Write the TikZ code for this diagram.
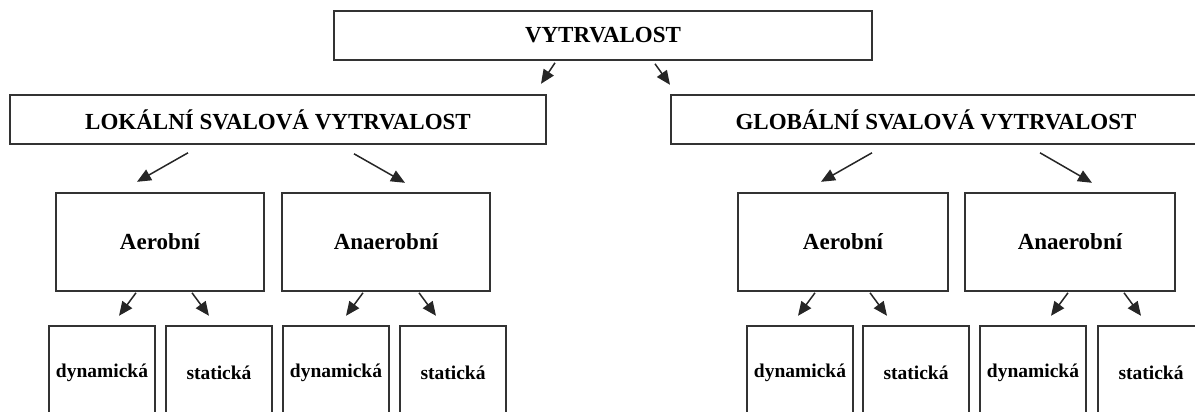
\documentclass[tikz,border=0pt]{standalone}
\usepackage{fontspec}
\setmainfont{Liberation Serif}
\usetikzlibrary{arrows.meta,calc}

\tikzset{
  box/.style={draw=black!80, line width=1.6pt, rectangle, inner sep=0pt,
              font=\bfseries\fontsize{23}{27}\selectfont, text=black},
  headbox/.style={box, minimum height=49pt},
  midbox/.style={box, minimum height=98pt},
  leafbox/.style={box, minimum width=106pt, minimum height=94pt,
                  font=\bfseries\fontsize{19.5}{23}\selectfont},
  arr/.style={draw=black!85, line width=1.5pt,
              -{Triangle[length=14pt,width=12pt]}}
}

\begin{document}
\begin{tikzpicture}[x=1pt,y=-1pt]
  \useasboundingbox (0,0) rectangle (1195,412);
  \clip (0,0) rectangle (1195,412);

  % top level
  \node[headbox, minimum width=538pt] (top) at (603,35.5) {VYTRVALOST};

  % second level
  \node[headbox, minimum width=536pt] (lok)  at (278,119.5) {LOKÁLNÍ SVALOVÁ VYTRVALOST};
  \node[headbox, minimum width=530pt] (glob) at (936,119.5) {GLOBÁLNÍ SVALOVÁ VYTRVALOST};

  % third level
  \node[midbox, minimum width=208pt] (aerL) at (160,242)    {Aerobní};
  \node[midbox, minimum width=208pt] (anL)  at (386,242)    {Anaerobní};
  \node[midbox, minimum width=210pt] (aerR) at (843,242)    {Aerobní};
  \node[midbox, minimum width=210pt] (anR)  at (1070,242)   {Anaerobní};

  % leaves
  \node[leafbox] (d1) at (102,373)  {dynamická};
  \node[leafbox] (s1) at (219,373)  {statická};
  \node[leafbox] (d2) at (336,373)  {dynamická};
  \node[leafbox] (s2) at (453,373)  {statická};
  \node[leafbox] (d3) at (800,373)  {dynamická};
  \node[leafbox] (s3) at (916,373)  {statická};
  \node[leafbox] (d4) at (1033,373) {dynamická};
  \node[leafbox] (s4) at (1151,373) {statická};

  % arrows below the top box
  \draw[arr] ($(top.south)+(-48,2)$) -- ++(-14,21);
  \draw[arr] ($(top.south)+(52,3)$)  -- ++(15,21);

  % arrows below the second level
  \draw[arr] ($(lok.south)+(-90,8)$)   -- ++(-51,29);
  \draw[arr] ($(lok.south)+(76,9)$)    -- ++(51,29);
  \draw[arr] ($(glob.south)+(-64,8)$)  -- ++(-51,29);
  \draw[arr] ($(glob.south)+(104,8)$)  -- ++(52,30);

  % arrows below the third level
  \draw[arr] ($(aerL.south)+(-24,1)$)   -- ++(-17,23);
  \draw[arr] ($(aerL.south)+(32,1)$)    -- ++(17,23);
  \draw[arr] ($(anL.south)+(-23,1)$)    -- ++(-17,23);
  \draw[arr] ($(anL.south)+(33,1)$)     -- ++(17,23);
  \draw[arr] ($(aerR.south)+(-28,1)$)   -- ++(-17,23);
  \draw[arr] ($(aerR.south)+(27,1)$)    -- ++(17,23);
  \draw[arr] ($(anR.south)+(-2,1)$)     -- ++(-17,23);
  \draw[arr] ($(anR.south)+(54,1)$)     -- ++(17,23);
\end{tikzpicture}
\end{document}
